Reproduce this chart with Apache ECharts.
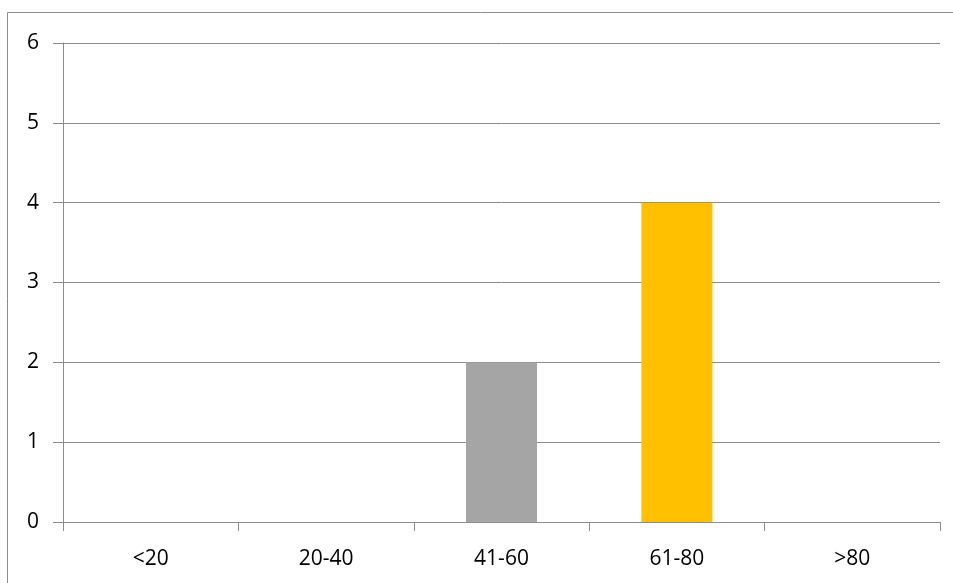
<!DOCTYPE html>
<html>
<head>
<meta charset="utf-8">
<script src="https://cdn.jsdelivr.net/npm/echarts@6/dist/echarts.min.js"></script>
<style>
html,body{margin:0;padding:0;background:#fff;}
#chart{width:953px;height:583px;}
</style>
</head>
<body>
<div id="chart"></div>
<script>
// 分组数据
var categories = ['<20', '20-40', '41-60', '61-80', '>80'];
var counts = [0, 0, 2, 4, 0];
var barColors = ['#A5A5A5', '#A5A5A5', '#A5A5A5', '#FFC000', '#A5A5A5'];
var yTicks = [0, 1, 2, 3, 4, 5, 6];

var chart = echarts.init(document.getElementById('chart'));
var option = {
    backgroundColor: '#fff',
    animation: false,
    graphic: [{
        type: 'rect',
        shape: { x: 7.5, y: 12.5, width: 1000, height: 1000 },
        style: { fill: 'none', stroke: '#8c8c8c', lineWidth: 1 }
    }],
    grid: {
        left: 63,
        right: 13,
        top: 43,
        bottom: 61
    },
    xAxis: {
        type: 'category',
        data: categories,
        axisLine: { lineStyle: { color: '#8c8c8c', width: 1 } },
        axisTick: { show: true, length: 9, lineStyle: { color: '#8c8c8c' } },
        axisLabel: {
            margin: 27,
            color: '#000',
            fontSize: 21,
            fontFamily: 'Open Sans'
        }
    },
    yAxis: {
        type: 'value',
        min: yTicks[0],
        max: yTicks[yTicks.length - 1],
        interval: 1,
        axisLine: { show: true, lineStyle: { color: '#8c8c8c', width: 1 } },
        axisTick: { show: true, length: 10, lineStyle: { color: '#8c8c8c' } },
        axisLabel: {
            margin: 24,
            color: '#000',
            fontSize: 21,
            fontFamily: 'Open Sans'
        },
        splitLine: { show: true, lineStyle: { color: '#8c8c8c', width: 1 } }
    },
    series: [{
        type: 'bar',
        barWidth: '40.5%',
        data: counts.map(function (v, i) {
            return { value: v, itemStyle: { color: barColors[i] } };
        })
    }]
};
chart.setOption(option);
</script>
</body>
</html>
